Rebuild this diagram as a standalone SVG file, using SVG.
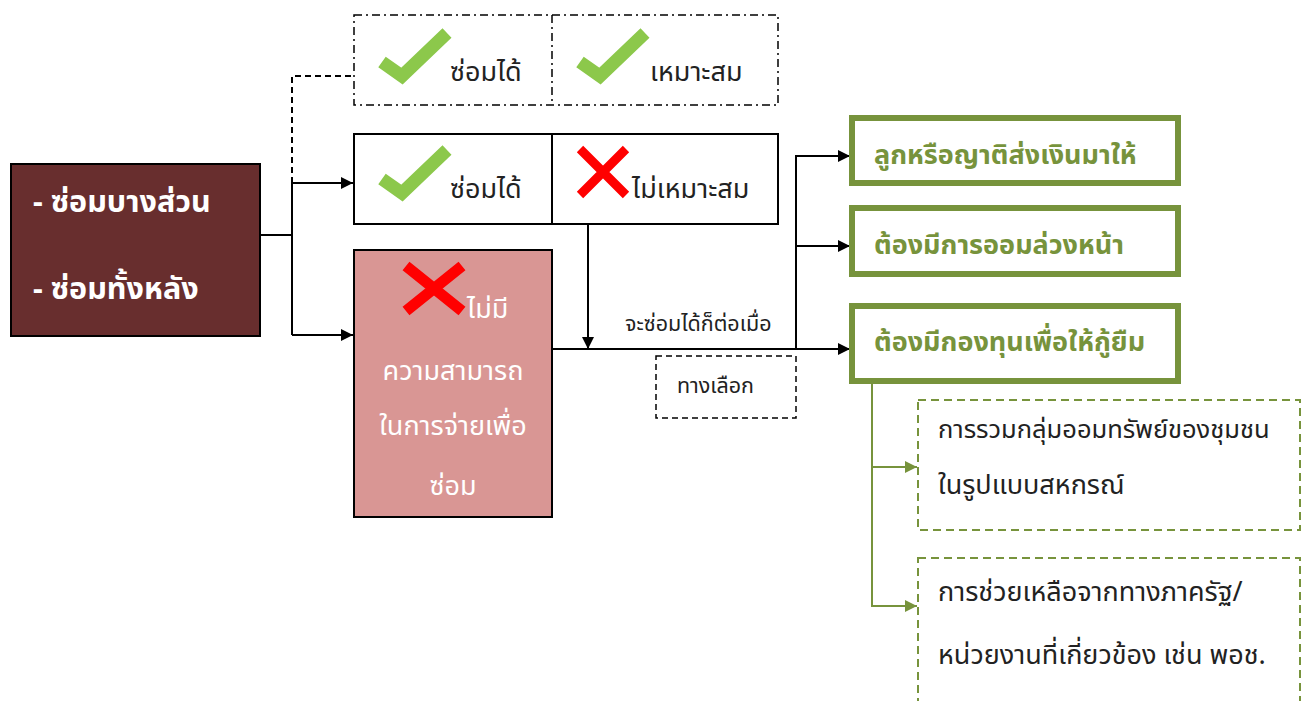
<svg xmlns="http://www.w3.org/2000/svg" width="1306" height="701" viewBox="0 0 1306 701">
<defs>
<marker id="ab" viewBox="0 0 10 10" refX="10" refY="5" markerWidth="12" markerHeight="12" markerUnits="userSpaceOnUse" orient="auto"><path d="M0,0 L10,5 L0,10 z" fill="#000"/></marker>
<marker id="ag" viewBox="0 0 10 10" refX="10" refY="5" markerWidth="12" markerHeight="12" markerUnits="userSpaceOnUse" orient="auto"><path d="M0,0 L10,5 L0,10 z" fill="#77933C"/></marker>
<g id="chk"><path d="M0,29 L20,43 L65,0" fill="none" stroke="#8CC84B" stroke-width="13"/></g>
<g id="xx"><path d="M0,0 L46,46 M46,0 L0,46" fill="none" stroke="#FF0000" stroke-width="9"/></g>
</defs>
<style>
text{font-family:"Noto Sans","Noto Sans Thai",sans-serif;}
.t{font-size:27px;fill:#222;}
.s{font-size:21.5px;fill:#222;}
.w{font-size:27px;fill:#fff;}
.g{font-size:27px;font-weight:bold;fill:#77933C;}
.h{font-size:30.5px;font-weight:bold;fill:#fff;}
.ln{fill:none;stroke:#000;stroke-width:2;}
.lg{fill:none;stroke:#77933C;stroke-width:2;}
.gb{fill:#fff;stroke:#77933C;stroke-width:6;}
.gd{fill:#fff;stroke:#77933C;stroke-width:2;stroke-dasharray:8 5;}
</style>
<rect width="1306" height="701" fill="#fff"/>
<g id="connectors">
<path class="ln" d="M260,235 H292"/>
<path class="ln" d="M292,183 V335"/>
<path class="ln" d="M292,183 H353" marker-end="url(#ab)"/>
<path class="ln" d="M292,335 H353" marker-end="url(#ab)"/>
<path class="ln" d="M292,183 V76 H354" stroke-dasharray="6 4"/>
<path class="ln" d="M588,224 V349" marker-end="url(#ab)"/>
<path class="ln" d="M552,349 H850" marker-end="url(#ab)"/>
<path class="ln" d="M796,349 V156 H850" marker-end="url(#ab)"/>
<path class="ln" d="M796,246 H850" marker-end="url(#ab)"/>
<path class="lg" d="M872,384 V606 H917" marker-end="url(#ag)"/>
<path class="lg" d="M872,467 H917" marker-end="url(#ag)"/>
<text class="s" x="625" y="331">จะซ่อมได้ก็ต่อเมื่อ</text>
</g>
<g id="n-main">
<rect x="11" y="164" width="249" height="172" fill="#682E2E" stroke="#000" stroke-width="2"/>
<text class="h" x="33" y="212">- ซ่อมบางส่วน</text>
<text class="h" x="33" y="299">- ซ่อมทั้งหลัง</text>
</g>
<g id="n-option1">
<rect x="354" y="15" width="424" height="90" fill="none" stroke="#000" stroke-width="1.5" stroke-dasharray="8 4 2 4"/>
<path d="M552,15 V105" stroke="#000" stroke-width="1.5" stroke-dasharray="8 4 2 4"/>
<use href="#chk" x="382" y="33"/>
<text class="t" x="450" y="81">ซ่อมได้</text>
<use href="#chk" x="580" y="33"/>
<text class="t" x="650" y="81">เหมาะสม</text>
</g>
<g id="n-option2">
<rect x="354" y="134" width="424" height="90" fill="#fff" stroke="#000" stroke-width="2"/>
<path d="M552,134 V224" stroke="#000" stroke-width="2"/>
<use href="#chk" x="382" y="150"/>
<text class="t" x="450" y="198">ซ่อมได้</text>
<use href="#xx" x="580" y="149"/>
<text class="t" x="632" y="198">ไม่เหมาะสม</text>
</g>
<g id="n-option3">
<rect x="354" y="250" width="198" height="267" fill="#D99694" stroke="#000" stroke-width="2"/>
<path d="M406,266 L462,311 M462,266 L406,311" fill="none" stroke="#FF0000" stroke-width="11"/>
<text class="w" x="467" y="318">ไม่มี</text>
<text class="w" x="453" y="380" text-anchor="middle">ความสามารถ</text>
<text class="w" x="453" y="435" text-anchor="middle">ในการจ่ายเพื่อ</text>
<text class="w" x="453" y="495" text-anchor="middle">ซ่อม</text>
</g>
<g id="n-alt">
<rect x="656" y="356" width="140" height="62" fill="#fff" stroke="#000" stroke-width="1.5" stroke-dasharray="6 4"/>
<text class="s" x="677" y="393" font-size="21px">ทางเลือก</text>
</g>
<g id="n-g1">
<rect class="gb" x="852" y="118" width="326" height="65"/>
<text class="g" x="874" y="164">ลูกหรือญาติส่งเงินมาให้</text>
</g>
<g id="n-g2">
<rect class="gb" x="852" y="208" width="326" height="66"/>
<text class="g" x="874" y="254">ต้องมีการออมล่วงหน้า</text>
</g>
<g id="n-g3">
<rect class="gb" x="852" y="306" width="326" height="75"/>
<text class="g" x="874" y="351">ต้องมีกองทุนเพื่อให้กู้ยืม</text>
</g>
<g id="n-d1">
<rect class="gd" x="918" y="400" width="382" height="130"/>
<text class="t" x="938" y="438" style="font-size:25.5px">การรวมกลุ่มออมทรัพย์ของชุมชน</text>
<text class="t" x="938" y="494">ในรูปแบบสหกรณ์</text>
</g>
<g id="n-d2">
<rect class="gd" x="918" y="558" width="382" height="160"/>
<text class="t" x="938" y="601">การช่วยเหลือจากทางภาครัฐ/</text>
<text class="t" x="938" y="664">หน่วยงานที่เกี่ยวข้อง เช่น พอช.</text>
</g>
</svg>
